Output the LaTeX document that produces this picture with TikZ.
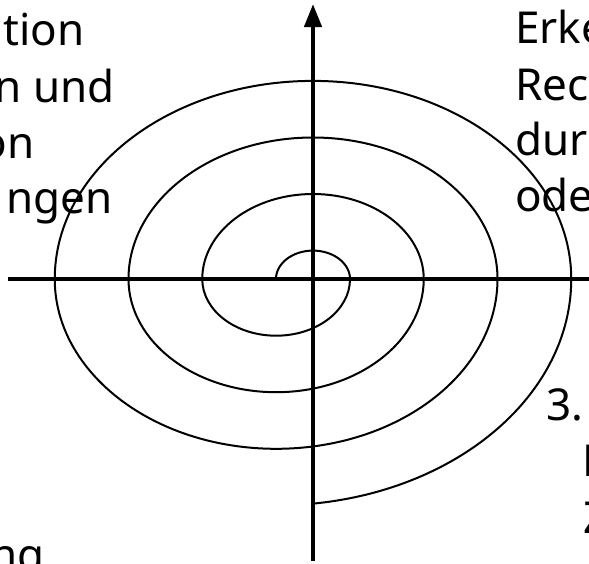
\documentclass[tikz,border=0pt]{standalone}
\usepackage{fontspec}
\setmainfont{Noto Sans}
\usetikzlibrary{arrows.meta}
\begin{document}
\begin{tikzpicture}[x=1pt,y=-1pt,
  spiralline/.style={line width=2pt},
  axisline/.style={line width=4.8pt},
  lbl/.style={inner sep=0pt,font=\fontsize{44}{56}\selectfont}]
\useasboundingbox (0,0) rectangle (589,563);
% axes
\coordinate (hL) at (8,279);
\coordinate (hR) at (592,279);
\coordinate (vB) at (313,561);
\coordinate (vT) at (313,4);
\draw[axisline] (hL) -- (hR);
\draw[line width=4.3pt,-{Triangle[length=23pt,width=17pt]}] (vB) -- (vT);
% spiral
\coordinate (s0) at (276,279);
\draw[spiralline] (s0)
  arc[start angle=180,end angle=360,x radius=37,y radius=28.4]
  arc[start angle=0,end angle=180,x radius=73.875,y radius=56.7]
  arc[start angle=180,end angle=360,x radius=110.75,y radius=85]
  arc[start angle=0,end angle=180,x radius=147.625,y radius=113.2]
  arc[start angle=180,end angle=360,x radius=184.5,y radius=141.5]
  arc[start angle=0,end angle=180,x radius=221.375,y radius=169.8]
  arc[start angle=180,end angle=360,x radius=258.25,y radius=198.1]
  arc[start angle=0,end angle=82.85,x radius=295.125,y radius=226.4];
% texts, left column
\node[lbl,anchor=base east] (l1) at (85,45) {tion};
\node[lbl,anchor=base east] (l2) at (115,102) {n und};
\node[lbl,anchor=base east] (l3) at (35,158) {on};
\node[lbl,anchor=base east] (l4) at (113,213) {ngen};
% right column
\node[lbl,anchor=base west] (r1) at (515,43) {Erke};
\node[lbl,anchor=base west] (r2) at (515,100) {Rec};
\node[lbl,anchor=base west] (r3) at (515,155) {dur};
\node[lbl,anchor=base west] (r4) at (515,211) {ode};
% lower right
\node[lbl,anchor=base west] (b1) at (546,420) {3.};
\node[lbl,anchor=base west] (b2) at (582,476) {E};
\node[lbl,anchor=base west] (b3) at (583,533) {Z};
% lower left
\node[lbl,anchor=base east] (b4) at (45,570) {ng};
\end{tikzpicture}
\end{document}
